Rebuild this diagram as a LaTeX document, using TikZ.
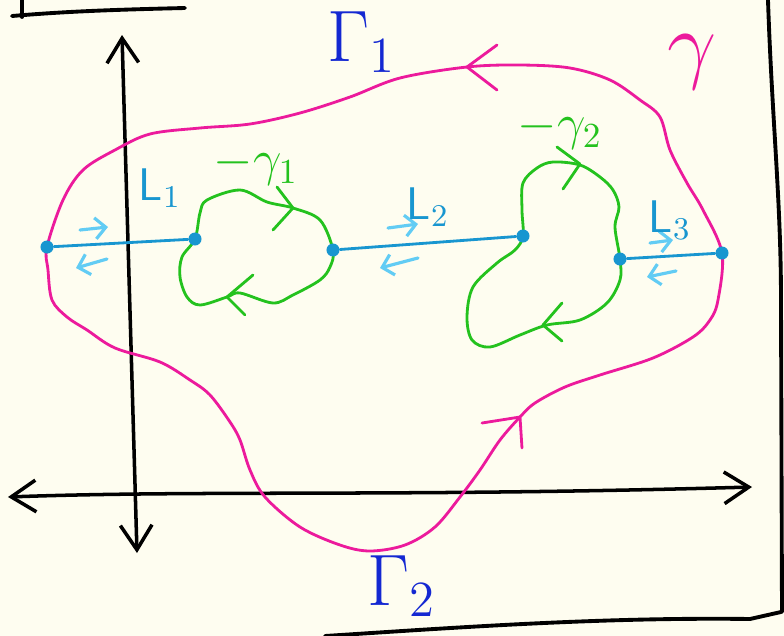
\documentclass[tikz,border=0pt]{standalone}
\usepackage{xcolor}
\usetikzlibrary{arrows.meta}

\definecolor{paper}{HTML}{FEFDF0}
\definecolor{curvepink}{HTML}{EC1A9C}
\definecolor{gammablue}{HTML}{1428D2}
\definecolor{cutblue}{HTML}{1896D0}
\definecolor{flowblue}{HTML}{62CCF4}
\definecolor{loopgreen}{HTML}{24C21E}

\begin{document}
\begin{tikzpicture}[x=0.01cm, y=-0.01cm, line cap=round, line join=round,
    barb/.tip={Straight Barb[length=7pt,width=9pt]},
    axis/.style={line width=1pt},
    frame/.style={line width=1.1pt},
    outer/.style={curvepink, line width=0.8pt},
    inner/.style={loopgreen, line width=0.8pt},
    cut/.style={cutblue, line width=0.8pt},
    flow/.style={flowblue, line width=0.9pt, -{Straight Barb[length=3pt,width=6pt]}},
    dot/.style={circle, fill=cutblue, inner sep=0pt, minimum size=0.13cm},
    biglbl/.style={gammablue, font=\fontsize{20}{22}\selectfont},
    cutlbl/.style={cutblue, font=\fontsize{13}{15}\selectfont\sffamily},
    looplbl/.style={loopgreen, font=\fontsize{14}{16}\selectfont}]
  \useasboundingbox (0,0) rectangle (784,636);
  \fill[paper] (0,0) rectangle (784,636);

  % page frame
  \draw[frame] (12,16) .. controls (60,12) and (100,10) .. (185,8);
  \draw[frame] (22,0) -- (22,17);
  \draw[frame] (768,0) .. controls (772,120) and (781,200) .. (781,300) -- (782,612);
  \draw[frame] (325,636) .. controls (450,628) and (600,617) .. (750,619) -- (781,612);

  % axes
  \draw[axis, barb-barb] (137,553) -- (122,35);
  \draw[axis, barb-barb] (8,497) .. controls (200,490) and (400,497) .. (752,487);

  % outer contour
  \draw[outer] plot[smooth cycle, tension=0.55] coordinates {
    (47,247) (63,200) (83,170) (115,150) (150,134) (200,128) (250,124) (300,113)
    (350,97) (400,78) (467,67) (520,65) (570,68) (610,80) (640,100) (660,117)
    (670,150) (687,183) (703,210) (722,253) (718,300) (710,320) (693,337)
    (653,358) (600,375) (565,387) (535,403) (520,417) (500,440) (480,470)
    (460,497) (435,527) (405,545) (370,551) (340,545) (300,527) (265,497)
    (250,470) (240,440) (230,422) (210,395) (190,380) (160,362) (115,348)
    (87,330) (67,317) (52,300) (48,270)};
  \draw[outer] (497,45) -- (467,67) -- (497,90);
  \draw[outer] (482,423) -- (520,417) -- (522,448);

  % small loops
  \draw[inner] plot[smooth cycle, tension=0.55] coordinates {
    (195,239) (200,213) (207,200) (240,190) (267,202) (293,208) (320,220)
    (333,250) (330,267) (320,280) (293,295) (273,303) (240,293) (227,297)
    (200,305) (187,297) (180,277) (182,257)};
  \draw[inner] (277,187) -- (293,208) -- (273,230);
  \draw[inner] (253,275) -- (227,297) -- (245,315);

  \draw[inner] plot[smooth cycle, tension=0.55] coordinates {
    (523,236) (522,210) (523,183) (537,168) (553,162) (580,165) (600,177)
    (613,190) (619,207) (615,227) (620,259) (620,280) (607,303) (580,320)
    (547,325) (520,335) (490,347) (472,340) (467,317) (473,287) (497,263)
    (515,250)};
  \draw[inner] (557,147) -- (580,164) -- (563,189);
  \draw[inner] (562,303) -- (543,325) -- (562,341);

  % branch cuts
  \node[dot] (a1) at (47,247) {};
  \node[dot] (b1) at (195,239) {};
  \node[dot] (a2) at (333,250) {};
  \node[dot] (b2) at (523,236) {};
  \node[dot] (a3) at (620,259) {};
  \node[dot] (b3) at (722,253) {};
  \draw[cut] (a1) -- (b1);
  \draw[cut] (a2) -- (b2);
  \draw[cut] (a3) -- (b3);

  \draw[flow] (80,230) -- (108,227);
  \draw[flow] (107,259) -- (76,268);
  \draw[flow] (388,228) -- (418,224);
  \draw[flow] (418,258) -- (380,268);
  \draw[flow] (650,243) -- (673,240);
  \draw[flow] (676,271) -- (647,277);

  % labels
  \node[biglbl] (g1) at (362,42) {$\Gamma_1$};
  \node[biglbl] (g2) at (402,586) {$\Gamma_2$};
  \node[curvepink, font=\fontsize{24}{26}\selectfont] (gam) at (692,62) {$\gamma$};
  \node[looplbl] (m1) at (256,166) {$-\gamma_1$};
  \node[looplbl] (m2) at (560,130) {$-\gamma_2$};
  \node[cutlbl] (l1) at (160,188) {L$_1$};
  \node[cutlbl] (l2) at (428,207) {L$_2$};
  \node[cutlbl] (l3) at (670,220) {L$_3$};
\end{tikzpicture}
\end{document}
